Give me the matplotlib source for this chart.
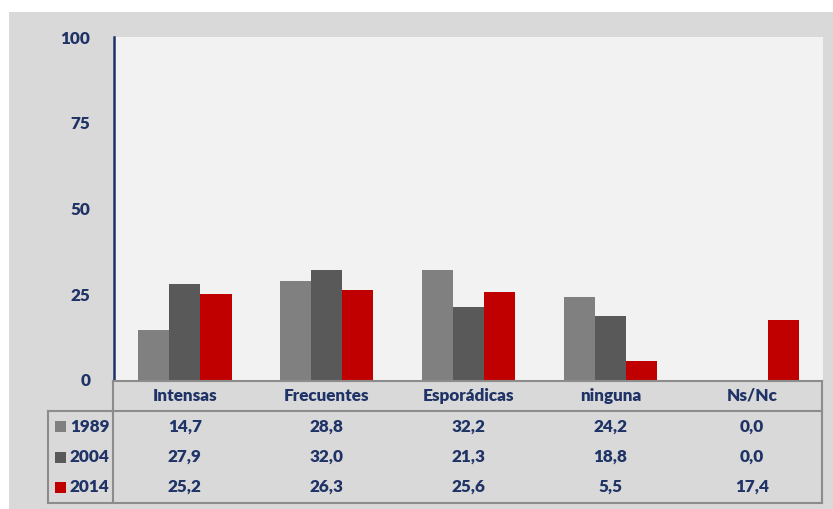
import matplotlib
matplotlib.use("Agg")
import matplotlib.pyplot as plt
from matplotlib.patches import Rectangle
import numpy as np

categories = ["Intensas", "Frecuentes", "Esporádicas", "ninguna", "Ns/Nc"]
years = ["1989", "2004", "2014"]
v1989 = [14.7, 28.8, 32.2, 24.2, 0.0]
v2004 = [27.9, 32.0, 21.3, 18.8, 0.0]
v2014 = [25.2, 26.3, 25.6, 5.5, 17.4]
series = [v1989, v2004, v2014]
colors = ["#808080", "#595959", "#C00000"]
yticks = [0, 25, 50, 75, 100]

W, H = 833, 509
navy = "#1F3366"
grid_gray = "#8C8C8C"
font = "Lato"
fs = 12.3
fw = "heavy"

fig = plt.figure(figsize=(W / 100, H / 100), dpi=100, facecolor="white")

def fx(px):
    return px / W

def fy(py):
    return 1 - py / H

# outer gray background
fig.patches.append(Rectangle((fx(9), 0), 1 - fx(9), fy(12), transform=fig.transFigure,
                             facecolor="#D9D9D9", edgecolor="none", zorder=-10))

L, R, T, B = 114, 823, 37, 380
ax = fig.add_axes([fx(L), fy(B), fx(R) - fx(L), fy(T) - fy(B)])
ax.set_facecolor("#F2F2F2")
x = np.arange(len(categories))
bw = 0.22
for i, (vals, c) in enumerate(zip(series, colors)):
    ax.bar(x + (i - 1) * bw, vals, width=bw, color=c, edgecolor="none", zorder=2)
ax.set_xlim(-0.5, len(categories) - 0.5)
ax.set_ylim(0, 100)
ax.set_yticks(yticks)
ax.set_yticklabels([str(t) for t in yticks], fontsize=fs, fontweight=fw,
                   color=navy, family=font)
ax.tick_params(axis="y", length=0, pad=17)
ax.set_xticks([])
for s in ["top", "right", "bottom"]:
    ax.spines[s].set_visible(False)
ax.spines["left"].set_color(navy)
ax.spines["left"].set_linewidth(1.8)

# table axes
TL, TR, TT, TB = 48, 823, 381, 503
cat_px = (R - L) / len(categories)
tax = fig.add_axes([fx(TL), fy(TB), fx(TR) - fx(TL), fy(TT) - fy(TB)])
tax.set_xlim(-0.5 - (L - TL) / cat_px, len(categories) - 0.5)
tax.set_ylim(TB, TT)
tax.axis("off")
tax.patch.set_alpha(0)

lk = dict(color=grid_gray, lw=1.5, solid_capstyle="projecting", clip_on=False)
xl = -0.5 - (L - TL) / cat_px
xa = -0.5 - 1 / cat_px
xr = len(categories) - 0.5 - 1 / cat_px
tax.plot([xa, xr], [381, 381], **lk)
tax.plot([xl, xr], [411, 411], **lk)
tax.plot([xl, xr], [503, 503], **lk)
tax.plot([xa, xa], [381, 503], **lk)
tax.plot([xl, xl], [411, 503], **lk)
tax.plot([xr, xr], [381, 503], **lk)

txt = dict(fontsize=fs, fontweight=fw, color=navy, family=font,
           ha="center", va="center")
for i, cat in enumerate(categories):
    tax.text(i, 396, cat, **txt)

row_y = [427, 457, 487]
for r, (yr, vals, c) in enumerate(zip(years, series, colors)):
    yc = row_y[r]
    for i, v in enumerate(vals):
        tax.text(i, yc, f"{v:.1f}".replace(".", ","), **txt)
    sx = xl + (55 - TL) / cat_px
    tax.add_patch(Rectangle((sx, yc - 5.5), 11 / cat_px, 11, facecolor=c,
                            edgecolor="none"))
    tax.text(xl + (70 - TL) / cat_px, yc, yr, fontsize=fs, fontweight=fw,
             color=navy, family=font, ha="left", va="center")

fig.savefig("out.png", dpi=100, facecolor="white")
